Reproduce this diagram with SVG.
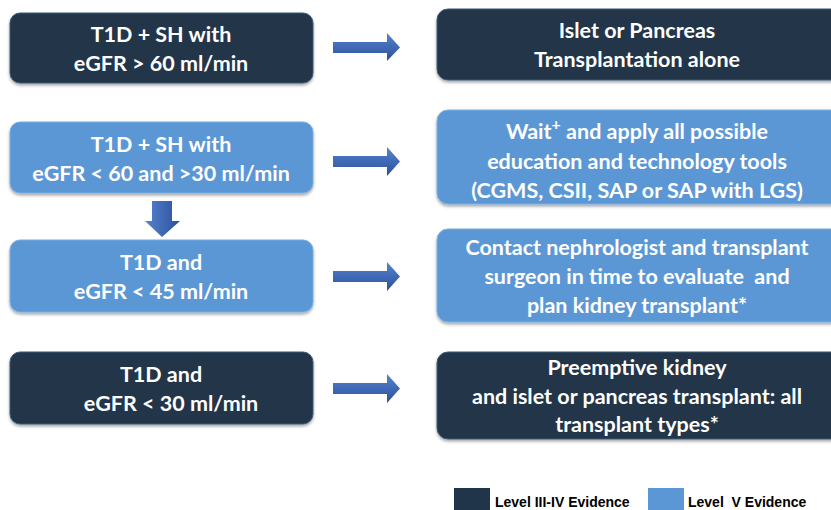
<svg xmlns="http://www.w3.org/2000/svg" width="831" height="510" viewBox="0 0 831 510">
<defs>
<filter id="sh" x="-10%" y="-20%" width="120%" height="150%">
<feDropShadow dx="0" dy="2" stdDeviation="1.5" flood-color="#000" flood-opacity="0.35"/>
</filter>
<linearGradient id="ag" x1="0" y1="0" x2="0" y2="1">
<stop offset="0" stop-color="#5583D0"/>
<stop offset="1" stop-color="#2C509A"/>
</linearGradient>
<linearGradient id="agv" x1="0" y1="0" x2="1" y2="0">
<stop offset="0" stop-color="#5583D0"/>
<stop offset="1" stop-color="#2C509A"/>
</linearGradient>
</defs>
<style>
.dark{fill:#203549;stroke:#3E5A78;stroke-width:1}
.light{fill:#5B97D5;stroke:#7AAEE3;stroke-width:1}
.t{font-family:Lato,"Open Sans","Noto Sans",sans-serif;font-weight:bold;font-size:21.5px;fill:#fff;text-anchor:middle}
.lg{font-family:"Liberation Sans",Arial,sans-serif;font-weight:bold;font-size:14px;fill:#000}
.arr{fill:url(#ag)}
</style>
<rect width="831" height="510" fill="#fff"/>

<g id="n1"><rect x="10" y="13" width="303" height="70" rx="10" class="dark" filter="url(#sh)"/>
<text class="t" x="161" y="42">T1D + SH with</text><text class="t" x="161" y="71">eGFR &gt; 60 ml/min</text></g>
<g id="n2"><rect x="10" y="122" width="303" height="71" rx="10" class="light" filter="url(#sh)"/>
<text class="t" x="161" y="152">T1D + SH with</text><text class="t" x="161" y="181">eGFR &lt; 60 and &gt;30 ml/min</text></g>
<g id="n3"><rect x="10" y="240" width="303" height="72" rx="10" class="light" filter="url(#sh)"/>
<text class="t" x="161" y="270">T1D and</text><text class="t" x="161" y="299">eGFR &lt; 45 ml/min</text></g>
<g id="n4"><rect x="10" y="352" width="303" height="72" rx="10" class="dark" filter="url(#sh)"/>
<text class="t" x="161" y="382">T1D and</text><text class="t" x="171" y="411">eGFR &lt; 30 ml/min</text></g>

<g id="r1"><rect x="437" y="9" width="410" height="71" rx="11" class="dark" filter="url(#sh)"/>
<text class="t" x="637" y="38">Islet or Pancreas</text><text class="t" x="637" y="67">Transplantation alone</text></g>
<g id="r2"><rect x="437" y="110" width="410" height="94" rx="11" class="light" filter="url(#sh)"/>
<text class="t" x="637" y="139">Wait<tspan dy="-9" font-size="16">+</tspan><tspan dy="9"> and apply all possible</tspan></text>
<text class="t" x="637" y="169">education and technology tools</text>
<text class="t" x="637" y="198">(CGMS, CSII, SAP or SAP with LGS)</text></g>
<g id="r3"><rect x="437" y="229" width="410" height="93" rx="11" class="light" filter="url(#sh)"/>
<text class="t" x="637" y="255">Contact nephrologist and transplant</text>
<text class="t" x="637" y="284" xml:space="preserve">surgeon in time to evaluate  and</text>
<text class="t" x="637" y="313">plan kidney transplant*</text></g>
<g id="r4"><rect x="437" y="352" width="410" height="87" rx="11" class="dark" filter="url(#sh)"/>
<text class="t" x="637" y="375">Preemptive kidney</text>
<text class="t" x="637" y="404">and islet or pancreas transplant: all</text>
<text class="t" x="637" y="432">transplant types*</text></g>

<g id="connectors">
<polygon class="arr" points="333,42 387,42 387,33 400,47.5 387,61 387,53 333,53"/>
<polygon class="arr" points="333,156 387,156 387,147 400,161.5 387,176 387,167 333,167"/>
<polygon class="arr" points="333,271 387,271 387,262 400,276.5 387,291 387,282 333,282"/>
<polygon class="arr" points="333,383 387,383 387,374 400,388.5 387,403 387,394 333,394"/>
<polygon fill="url(#agv)" points="152,201 172,201 172,221 180,221 162,237 145,221 152,221"/>
</g>

<g id="legend">
<rect x="454" y="488" width="36" height="22" fill="#203549"/>
<text class="lg" x="495" y="507">Level III-IV Evidence</text>
<rect x="648" y="488" width="36" height="22" fill="#5B97D5"/>
<text class="lg" x="688" y="507" xml:space="preserve">Level  V Evidence</text>
</g>
</svg>
